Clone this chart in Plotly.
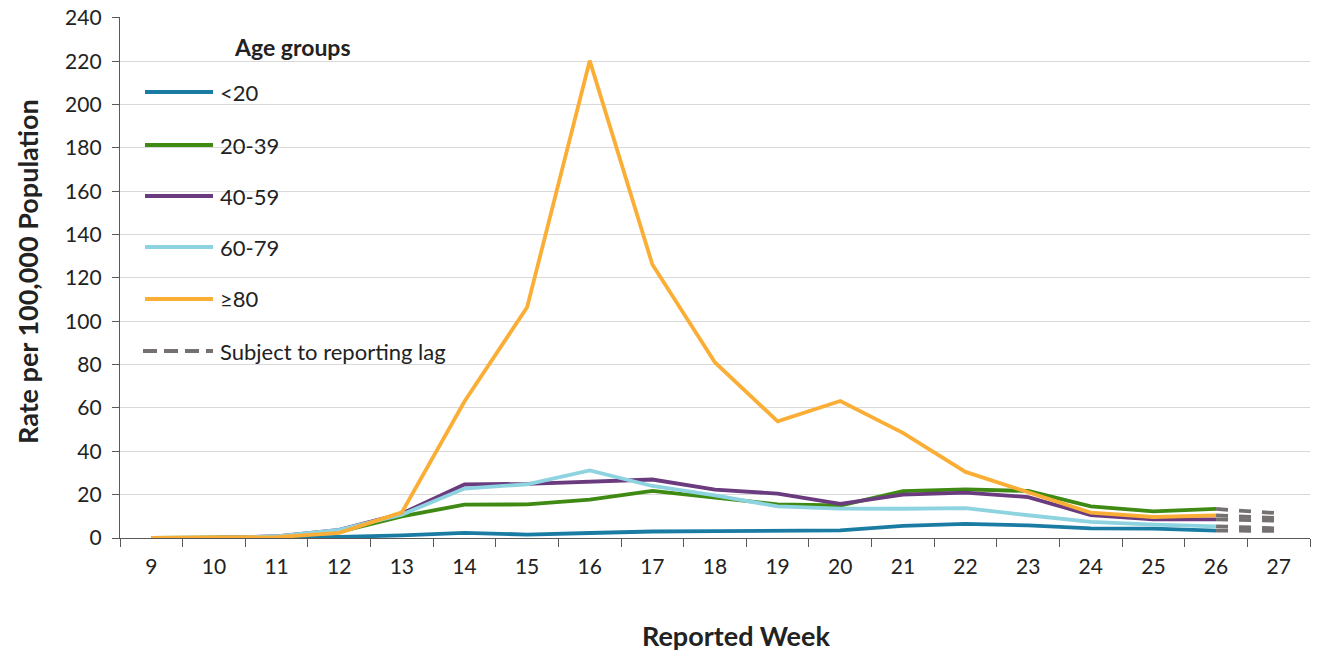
import plotly.graph_objects as go

# reported weeks and weekly rate per 100,000 by age group
weeks = [str(w) for w in range(9, 28)]
observed_weeks = weeks[:-1]          # 9..26 solid lines
lag_weeks = ["26", "27"]             # last interval subject to reporting lag

rate_u20 = [0, 0, 0, 0.5, 1.2, 2.4, 1.6, 2.3, 3.0, 3.2, 3.5, 3.5, 5.6, 6.5, 5.8, 4.4, 4.3, 3.4]
rate_20_39 = [0, 0, 0.4, 2.8, 10.0, 15.4, 15.5, 17.7, 21.7, 18.6, 15.5, 15.0, 21.6, 22.4, 21.7, 14.6, 12.3, 13.4]
rate_40_59 = [0, 0, 0.8, 3.8, 11.3, 24.7, 25.0, 26.2, 27.0, 22.3, 20.5, 15.8, 20.0, 20.9, 18.9, 10.6, 8.6, 8.6]
rate_60_79 = [0, 0, 0.8, 3.8, 10.8, 22.8, 24.8, 31.2, 24.0, 19.7, 14.6, 13.6, 13.5, 13.8, 10.5, 7.4, 6.2, 5.4]
rate_80p = [0, 0, 0.4, 2.4, 11.8, 63.0, 106.5, 220.3, 126.2, 81.0, 53.8, 63.2, 48.5, 30.5, 21.0, 11.7, 9.7, 10.4]

# week 27 values (reporting lag)
lag_end = {"<20": 3.3, "20-39": 11.4, "40-59": 8.0, "60-79": 4.4, "≥80": 9.2}

groups = ["<20", "20-39", "40-59", "60-79", "≥80"]
series = [rate_u20, rate_20_39, rate_40_59, rate_60_79, rate_80p]
colors = ["#1B7CA3", "#3E8A12", "#6A3B7E", "#8ED3E0", "#FBAE36"]
lag_color = "#767171"

# figure fills the whole window (body margin removed in post_script below)
W, H = 1319, 654
L, R, T, B = 120, 9, 17, 116
FONT = "Lato"
YMAX = 240.45   # a hair above 240 so the top gridline is drawn
LW = 3.8


def px(x):
    # window pixel -> paper x
    return (x - L) / (W - L - R)


def py(y):
    # window pixel -> paper y
    return (H - B - y) / (H - T - B)


fig = go.Figure()

for name, vals in zip(groups, series):
    fig.add_trace(go.Scatter(x=lag_weeks, y=[vals[-1], lag_end[name]], mode="lines",
                             line=dict(color=lag_color, width=LW, dash="12px,11px"),
                             showlegend=False, hoverinfo="skip"))

for name, vals, c in zip(groups, series, colors):
    fig.add_trace(go.Scatter(x=observed_weeks, y=vals, mode="lines", name=name,
                             line=dict(color=c, width=LW), showlegend=False))

# hand-built legend so sample lines match the reference length
shapes = [
    dict(type="rect", xref="paper", yref="paper", x0=px(133), x1=px(462), y0=py(378), y1=py(78),
         fillcolor="white", line=dict(width=0), layer="below"),
    dict(type="rect", xref="paper", yref="paper", x0=px(197), x1=px(385), y0=py(80), y1=py(32),
         fillcolor="white", line=dict(width=0), layer="below"),
]


def label(text, x, y, size, xanchor="center", angle=0):
    return dict(text=text, xref="paper", yref="paper", x=px(x), y=py(y),
                xanchor=xanchor, yanchor="middle", textangle=angle, showarrow=False,
                font=dict(size=size, color="#222", family=FONT))


annotations = [label("<b>Age groups</b>", 292, 47, 23)]
row_y = [92, 145, 196, 247, 299]
for name, c, yy in zip(groups, colors, row_y):
    shapes.append(dict(type="line", xref="paper", yref="paper", x0=px(145), x1=px(213),
                       y0=py(yy), y1=py(yy), line=dict(color=c, width=LW)))
    annotations.append(label(name, 218, yy, 22, xanchor="left"))
shapes.append(dict(type="line", xref="paper", yref="paper", x0=px(143), x1=px(213),
                   y0=py(351), y1=py(351), line=dict(color=lag_color, width=LW, dash="14px,7px")))
annotations.append(label("Subject to reporting lag", 218, 351, 22, xanchor="left"))

# axis titles
annotations.append(label("<b>Rate per 100,000 Population</b>", 27, 272, 27, angle=-90))
annotations.append(label("<b>Reported Week</b>", 736, 635, 27))

fig.update_layout(
    width=W, height=H,
    margin=dict(l=L, r=R, t=T, b=B),
    paper_bgcolor="white", plot_bgcolor="white",
    font=dict(family=FONT, size=21, color="#222"),
    shapes=shapes, annotations=annotations,
    showlegend=False,
)
fig.update_xaxes(type="category", categoryorder="array", categoryarray=weeks,
                 range=[-0.5, len(weeks) - 0.5], tickson="boundaries",
                 ticks="outside", ticklen=8, tickcolor="#595959", tickwidth=1,
                 showline=True, linecolor="#595959", linewidth=1.3,
                 showgrid=False, ticklabelstandoff=10, automargin=False,
                 tickfont=dict(size=21, color="#222", family=FONT))
fig.update_yaxes(range=[0, YMAX], tick0=0, dtick=20, ticks="outside", ticklen=7,
                 tickcolor="#595959", showline=True, linecolor="#595959", linewidth=1.3,
                 showgrid=True, gridcolor="#D9D9D9", gridwidth=1, zeroline=False,
                 ticklabelstandoff=6, automargin=False, ticklabeloverflow="allow",
                 tickfont=dict(size=21, color="#222", family=FONT))

fig.write_html("out.html", config={"displayModeBar": False},
               post_script="document.body.style.margin = '0';")
